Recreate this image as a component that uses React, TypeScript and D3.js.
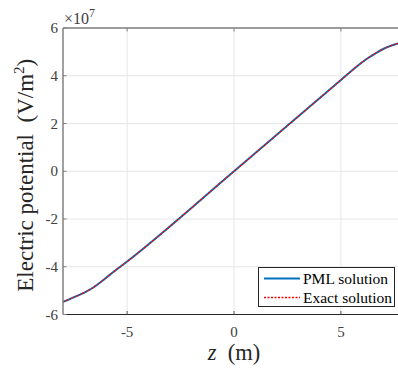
import React from "react";
import * as d3 from "d3";

const zValues = [-8, -7.5, -7, -6.6, -6.2, -5.8, -5, 0, 5, 5.8, 6.2, 6.6, 7, 7.4, 7.7];
const pmlValues = [-5.47, -5.28, -5.08, -4.88, -4.62, -4.33, -3.78, 0, 3.82, 4.43, 4.7, 4.93, 5.13, 5.28, 5.36];
const exactValues = [-5.47, -5.28, -5.08, -4.88, -4.62, -4.33, -3.78, 0, 3.82, 4.43, 4.7, 4.93, 5.13, 5.28, 5.36];
const xTicks = [-5, 0, 5];
const yTicks = [-6, -4, -2, 0, 2, 4, 6];
const seriesNames = ["PML solution", "Exact solution"];

const W = 398;
const H = 368;
const left = 63;
const right = 398;
const top = 28;
const bottom = 314.5;
const fontStyle = { fontFamily: '"Times New Roman", "Liberation Serif", "DejaVu Serif", serif' };

export default function App() {
  const x = d3.scaleLinear().domain([-8, 7.67]).range([left, right]);
  const y = d3.scaleLinear().domain([-6, 6]).range([bottom, top]);
  const line = d3
    .line<[number, number]>()
    .x((d) => x(d[0]))
    .y((d) => y(d[1]))
    .curve(d3.curveMonotoneX);
  const pml = line(zValues.map((z, i) => [z, pmlValues[i]] as [number, number])) || "";
  const exact = line(zValues.map((z, i) => [z, exactValues[i]] as [number, number])) || "";

  return (
    <svg
      width={W}
      height={H}
      style={{ position: "absolute", left: 0, top: 0, background: "#fff", ...fontStyle }}
    >
      <rect x={0} y={0} width={W} height={H} fill="#fff" />
      {xTicks.map((t) => (
        <line key={"gx" + t} x1={x(t)} x2={x(t)} y1={top} y2={bottom} stroke="#e6e6e6" strokeWidth={1} />
      ))}
      {yTicks.map((t) => (
        <line key={"gy" + t} x1={left} x2={right} y1={y(t)} y2={y(t)} stroke="#e6e6e6" strokeWidth={1} />
      ))}
      <path d={pml} fill="none" stroke="#0072BD" strokeWidth={2} />
      <path d={exact} fill="none" stroke="#ff0000" strokeWidth={1.3} strokeDasharray="2,1.5" />
      <line x1={left} x2={right} y1={top} y2={top} stroke="#808080" strokeWidth={1.5} />
      <line x1={left} x2={left} y1={top} y2={bottom} stroke="#808080" strokeWidth={1.5} />
      <line x1={left} x2={right} y1={bottom} y2={bottom} stroke="#262626" strokeWidth={1.2} />
      {xTicks.map((t) => (
        <g key={"xt" + t}>
          <line x1={x(t)} x2={x(t)} y1={bottom} y2={bottom - 3.5} stroke="#555" strokeWidth={1} />
          <line x1={x(t)} x2={x(t)} y1={top} y2={top + 3.5} stroke="#808080" strokeWidth={1} />
          <text x={x(t)} y={bottom + 22} textAnchor="middle" style={fontStyle} fontSize={15} fill="#404040">
            {t}
          </text>
        </g>
      ))}
      {yTicks.map((t) => (
        <g key={"yt" + t}>
          <line x1={left} x2={left + 3.5} y1={y(t)} y2={y(t)} stroke="#808080" strokeWidth={1} />
          <text x={left - 5} y={y(t) + 5} textAnchor="end" style={fontStyle} fontSize={15} fill="#404040">
            {t}
          </text>
        </g>
      ))}
      <text x={64} y={24} style={fontStyle} fontSize={16} fill="#404040">
        ×10
        <tspan dy={-7} fontSize={12}>7</tspan>
      </text>
      <text x={234} y={360} textAnchor="middle" style={fontStyle} fontSize={22.5} fill="#262626">
        <tspan fontStyle="italic">z</tspan>
        <tspan>{"\u00a0\u00a0(m)"}</tspan>
      </text>
      <text
        transform={`translate(33, ${(top + bottom) / 2 + 4}) rotate(-90)`}
        textAnchor="middle"
        style={fontStyle}
        fontSize={23}
        fill="#262626"
      >
        {"Electric potential\u00a0\u00a0(V/m"}
        <tspan dy={-9} fontSize={15}>2</tspan>
        <tspan dy={9}>)</tspan>
      </text>
      <rect x={258.5} y={267.5} width={136} height={39} fill="#fff" stroke="#262626" strokeWidth={1} />
      <line x1={264} x2={300} y1={278.5} y2={278.5} stroke="#0072BD" strokeWidth={2} />
      <text x={303} y={283.5} style={fontStyle} fontSize={15.5} fill="#000">
        {seriesNames[0]}
      </text>
      <line x1={264} x2={300} y1={297.5} y2={297.5} stroke="#ff0000" strokeWidth={1.3} strokeDasharray="2,1.5" />
      <text x={303} y={302.5} style={fontStyle} fontSize={15.5} fill="#000">
        {seriesNames[1]}
      </text>
    </svg>
  );
}
